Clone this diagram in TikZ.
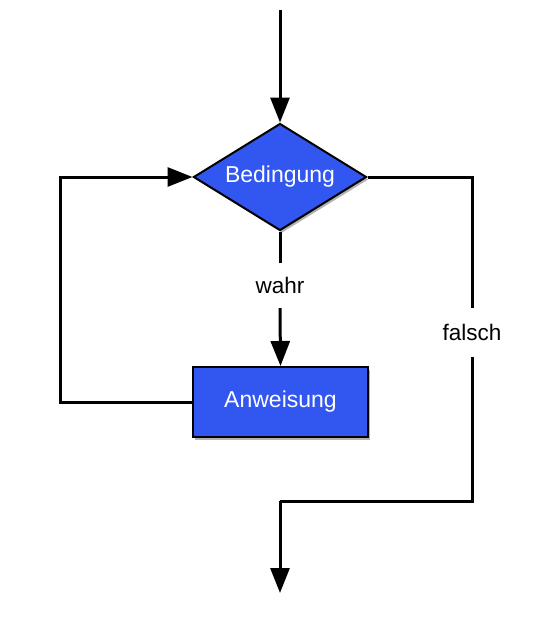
\documentclass[tikz,border=0pt]{standalone}
\usepackage{fontspec}
\setmainfont{Liberation Sans}
\usetikzlibrary{shapes.geometric,arrows.meta,shadows}
\definecolor{flowblue}{RGB}{50,86,240}
\tikzset{
  flowshape/.style={draw=black, line width=2pt, fill=flowblue, text=white,
    font=\fontsize{23}{27}\selectfont, inner sep=0pt,
    drop shadow={shadow xshift=2pt, shadow yshift=-2.5pt, opacity=0.3, fill=black}},
  decision/.style={flowshape, diamond, aspect=1.617, minimum width=173pt, minimum height=107pt},
  process/.style={flowshape, rectangle, minimum width=175pt, minimum height=70pt},
  lbl/.style={font=\fontsize{22.5}{26}\selectfont, inner sep=0pt, text=black},
  conn/.style={line width=3pt, draw=black},
  arr/.style={conn, -{Triangle[length=25pt,width=19pt]}}
}
\begin{document}
\begin{tikzpicture}[x=1pt,y=-1pt]
\useasboundingbox (0,0) rectangle (546,627);
\node[decision] (d) at (280,177) {\raisebox{-1.5pt}{Bedingung}};
\node[process] (a) at (280.5,402) {\raisebox{-2pt}{Anweisung}};
\node[lbl, minimum height=45pt] (wahr) at (280,285.5) {wahr};
\node[lbl, minimum height=49pt] (falsch) at (472,332.5) {falsch};
\coordinate (start) at (280,10);
\coordinate (loopc) at (60,402);
\coordinate (bend) at (280,501);
\coordinate (endc) at (280,593);
\draw[arr] (start) -- (d.north);
\draw[conn] (d.south) -- (wahr.north);
\draw[arr] (wahr.south) -- (a.north);
\draw[arr] (a.west) -- (loopc) |- (d.west);
\draw[conn] (d.east) -| (falsch.north);
\draw[conn] (falsch.south) |- (bend);
\draw[arr] (bend) -- (endc);
\end{tikzpicture}
\end{document}
